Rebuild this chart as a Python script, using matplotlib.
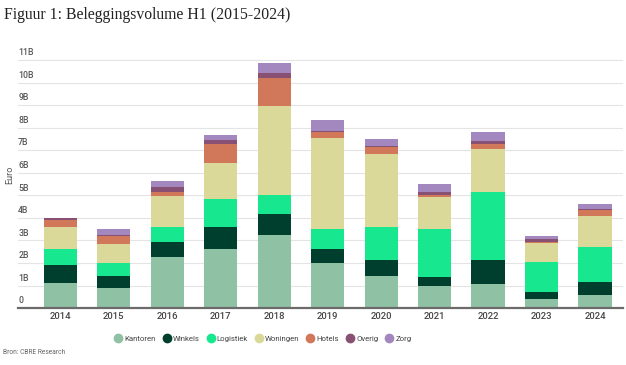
import matplotlib.pyplot as plt
import matplotlib.transforms as mtransforms
import numpy as np

years = ["2014", "2015", "2016", "2017", "2018", "2019", "2020", "2021", "2022", "2023", "2024"]
categories = ["Kantoren", "Winkels", "Logistiek", "Woningen", "Hotels", "Overig", "Zorg"]
colors = ["#8fc1a4", "#003f2d", "#17e88f", "#dbd99a", "#d2785a", "#885073", "#a388bf"]

# volumes in billions of euro per segment
kantoren = [1.12, 0.87, 2.25, 2.60, 3.24, 2.00, 1.43, 0.99, 1.05, 0.41, 0.58]
winkels = [0.79, 0.54, 0.68, 1.01, 0.91, 0.62, 0.68, 0.38, 1.08, 0.29, 0.56]
logistiek = [0.71, 0.59, 0.65, 1.22, 0.85, 0.88, 1.47, 2.15, 3.01, 1.34, 1.57]
woningen = [0.99, 0.85, 1.40, 1.60, 3.94, 4.02, 3.23, 1.39, 1.90, 0.83, 1.38]
hotels = [0.28, 0.33, 0.15, 0.86, 1.26, 0.27, 0.31, 0.10, 0.22, 0.04, 0.26]
overig = [0.09, 0.07, 0.22, 0.16, 0.23, 0.07, 0.06, 0.12, 0.16, 0.15, 0.05]
zorg = [0.02, 0.24, 0.27, 0.22, 0.43, 0.46, 0.31, 0.37, 0.37, 0.15, 0.21]

yticks = list(range(0, 12))
ytick_labels = ["0"] + [f"{v}B" for v in range(1, 12)]

series = [kantoren, winkels, logistiek, woningen, hotels, overig, zorg]

fig = plt.figure(figsize=(6.26, 3.65), dpi=100)
ax = fig.add_axes([0.029, 0.156, 0.966, 0.692])

x = np.arange(len(years))
bottom = np.zeros(len(years))
for name, vals, col in zip(categories, series, colors):
    ax.bar(x, vals, bottom=bottom, width=0.62, color=col, label=name, zorder=3)
    bottom += np.array(vals)

ax.set_xlim(-0.785, 10.52)
ax.set_ylim(0, 11.2)

for s in ["top", "right", "left"]:
    ax.spines[s].set_visible(False)
ax.spines["bottom"].set_color("#6b6b6b")
ax.spines["bottom"].set_linewidth(1.6)
ax.spines["bottom"].set_zorder(4)

ax.set_yticks(yticks)
ax.set_yticklabels([])
ax.tick_params(axis="y", length=0)
ax.grid(axis="y", color="#e4e4e4", linewidth=0.8, zorder=0)

trans = mtransforms.blended_transform_factory(ax.transAxes, ax.transData)
offset = mtransforms.ScaledTranslation(0, 2 / 72, fig.dpi_scale_trans)
for v, lab in zip(yticks, ytick_labels):
    ax.text(0.0, v, lab, transform=trans + offset, ha="left", va="bottom",
            fontsize=6.3, color="#555555", family="Roboto", fontweight="medium")

ax.set_xticks(x)
ax.set_xticklabels(years, fontsize=6.8, color="#444444", family="Roboto", fontweight="medium")
ax.tick_params(axis="x", length=0, pad=3)

fig.text(0.016, 0.52, "Euro", rotation=90, fontsize=6.5, color="#555555",
         family="Roboto", ha="center", va="center")

fig.text(0.006, 0.958, "Figuur 1: Beleggingsvolume H1 (2015-2024)", fontsize=11.3,
         family="Liberation Serif", color="#222222", ha="left", va="center")

handles = [plt.Line2D([], [], marker="o", linestyle="", markersize=6,
                      markerfacecolor=c, markeredgecolor=c) for c in colors]
leg = fig.legend(handles, categories, loc="center", bbox_to_anchor=(0.42, 0.072),
                 ncol=7, frameon=False, fontsize=5.6, handletextpad=0.3,
                 columnspacing=0.9, handlelength=1.0)
for t in leg.get_texts():
    t.set_color("#444444")
    t.set_family("Roboto")

fig.text(0.005, 0.033, "Bron: CBRE Research", fontsize=4.8, color="#666666",
         family="Roboto", ha="left", va="center")

fig.savefig("out.png", dpi=100)
